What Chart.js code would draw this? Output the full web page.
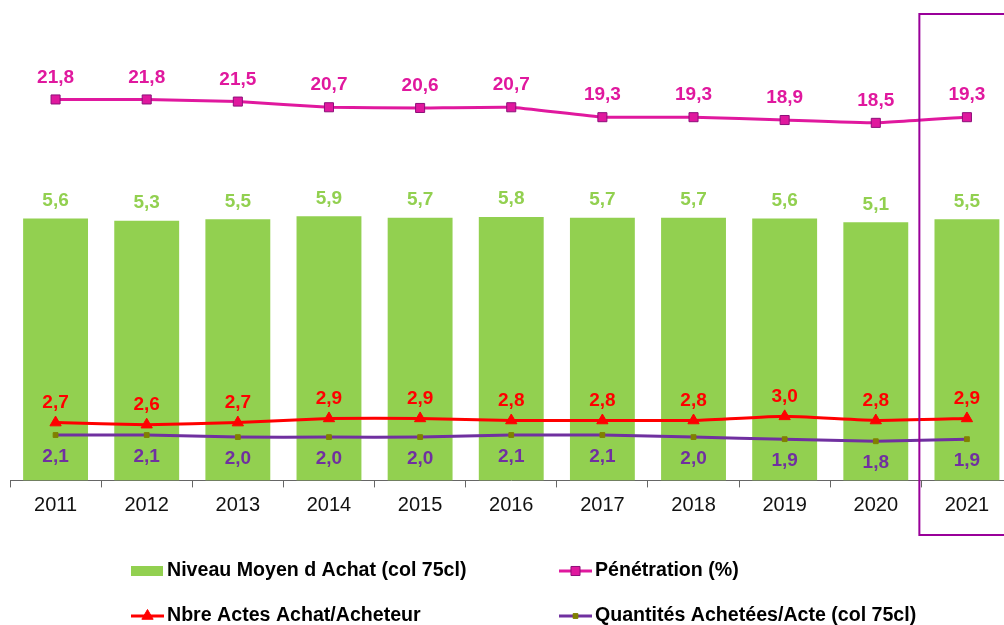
<!DOCTYPE html>
<html lang="fr">
<head>
<meta charset="utf-8">
<title>Évolution achats 2011-2021</title>
<script src="https://cdn.jsdelivr.net/npm/chart.js@4.4.1/dist/chart.umd.min.js"></script>
<style>
  html, body { margin: 0; padding: 0; background: #fff; overflow: hidden; }
  #wrap { width: 1020px; height: 625px; }
</style>
</head>
<body>
<div id="wrap"><canvas id="achatChart" width="1020" height="625"></canvas></div>
<script>
const ANNEES = ['2011', '2012', '2013', '2014', '2015', '2016', '2017', '2018', '2019', '2020', '2021'];

const SERIES = {
  niveau:   [5.6, 5.3, 5.5, 5.9, 5.7, 5.8, 5.7, 5.7, 5.6, 5.1, 5.5],
  penetration: [21.8, 21.8, 21.5, 20.7, 20.6, 20.7, 19.3, 19.3, 18.9, 18.5, 19.3],
  actes:    [2.7, 2.6, 2.7, 2.9, 2.9, 2.8, 2.8, 2.8, 3.0, 2.8, 2.9],
  quantites: [2.1, 2.1, 2.0, 2.0, 2.0, 2.1, 2.1, 2.0, 1.9, 1.8, 1.9]
};

const COLORS = {
  green: '#92D050',
  magenta: '#E0189E',
  magentaEdge: '#8E0F7A',
  red: '#FF0000',
  purple: '#7030A0',
  olive: '#808000',
  frame: '#990099'
};

const FONT = '"Liberation Sans", Arial, sans-serif';

// position of the value labels relative to each point (px, negative = above)
const LABEL_OFFSET = { 0: -18, 1: -22, 2: -20, 3: 22 };

const fmt = v => v.toFixed(1).replace('.', ',');

const valueLabels = {
  id: 'valueLabels',
  afterDatasetsDraw(chart) {
    const ctx = chart.ctx;
    ctx.save();
    ctx.font = 'bold 19px ' + FONT;
    ctx.textAlign = 'center';
    ctx.textBaseline = 'middle';
    chart.data.datasets.forEach((ds, i) => {
      const meta = chart.getDatasetMeta(i);
      ctx.fillStyle = ds.labelColor;
      meta.data.forEach((el, j) => {
        ctx.fillText(fmt(ds.data[j]), el.x, el.y + LABEL_OFFSET[i]);
      });
    });
    ctx.restore();
  }
};

// frame around the last year
const frame2021 = {
  id: 'frame2021',
  afterDraw(chart) {
    const ctx = chart.ctx;
    const x = chart.scales.x;
    const left = x.getPixelForValue(9) + (x.getPixelForValue(10) - x.getPixelForValue(9)) / 2 - 2;
    ctx.save();
    ctx.strokeStyle = COLORS.frame;
    ctx.lineWidth = 2;
    ctx.strokeRect(left, 14, 200, 521);
    ctx.restore();
  }
};

// legend in two columns, like the original
const gridLegend = {
  id: 'gridLegend',
  afterDraw(chart) {
    const ctx = chart.ctx;
    const spots = [
      { ds: 0, x: 131, y: 571 },
      { ds: 1, x: 559, y: 571 },
      { ds: 2, x: 131, y: 616 },
      { ds: 3, x: 559, y: 616 }
    ];
    ctx.save();
    spots.forEach(s => {
      const ds = chart.data.datasets[s.ds];
      if (ds.type === 'bar') {
        ctx.fillStyle = ds.backgroundColor;
        ctx.fillRect(s.x, s.y - 5, 32, 10);
      } else {
        ctx.strokeStyle = ds.borderColor;
        ctx.lineWidth = 3;
        ctx.beginPath();
        ctx.moveTo(s.x, s.y);
        ctx.lineTo(s.x + 33, s.y);
        ctx.stroke();
        ctx.fillStyle = ds.pointBackgroundColor;
        ctx.strokeStyle = ds.pointBorderColor;
        ctx.lineWidth = 1;
        Chart.helpers.drawPoint(ctx, {
          pointStyle: ds.pointStyle,
          radius: ds.pointRadius,
          borderWidth: 1
        }, s.x + 16.5, s.y);
      }
      ctx.fillStyle = '#000';
      ctx.font = 'bold 19.6px ' + FONT;
      ctx.textAlign = 'left';
      ctx.textBaseline = 'middle';
      ctx.fillText(ds.label, s.x + 36, s.y);
    });
    ctx.restore();
  }
};

function renderChart() {
  const ctx = document.getElementById('achatChart').getContext('2d');

  return new Chart(ctx, {
    type: 'bar',
    data: {
      labels: ANNEES,
      datasets: [
        {
          type: 'bar',
          label: 'Niveau Moyen d Achat (col 75cl)',
          data: SERIES.niveau,
          backgroundColor: COLORS.green,
          labelColor: COLORS.green,
          yAxisID: 'yNiveau',
          base: -29.3,
          barPercentage: 0.712,
          categoryPercentage: 1,
          order: 5
        },
        {
          type: 'line',
          label: 'Pénétration (%)',
          data: SERIES.penetration,
          borderColor: COLORS.magenta,
          borderWidth: 3,
          pointStyle: 'rect',
          pointRadius: 6.4,
          pointBackgroundColor: COLORS.magenta,
          pointBorderColor: COLORS.magentaEdge,
          pointBorderWidth: 1,
          labelColor: COLORS.magenta,
          tension: 0.1,
          yAxisID: 'yPen',
          order: 1
        },
        {
          type: 'line',
          label: 'Nbre Actes Achat/Acheteur',
          data: SERIES.actes,
          borderColor: COLORS.red,
          borderWidth: 3,
          pointStyle: 'triangle',
          pointRadius: 6.5,
          pointBackgroundColor: COLORS.red,
          pointBorderColor: COLORS.red,
          pointBorderWidth: 1,
          labelColor: COLORS.red,
          tension: 0.1,
          yAxisID: 'yActes',
          order: 2
        },
        {
          type: 'line',
          label: 'Quantités Achetées/Acte (col 75cl)',
          data: SERIES.quantites,
          borderColor: COLORS.purple,
          borderWidth: 3,
          pointStyle: 'rect',
          pointRadius: 3.4,
          pointBackgroundColor: COLORS.olive,
          pointBorderColor: COLORS.olive,
          pointBorderWidth: 1,
          labelColor: COLORS.purple,
          tension: 0.1,
          yAxisID: 'yActes',
          order: 3
        }
      ]
    },
    options: {
      responsive: false,
      animation: false,
      layout: { padding: { top: 20, left: 10, right: 6, bottom: 101.6 } },
      scales: {
        x: {
          grid: {
            offset: true,
            drawOnChartArea: false,
            tickLength: 7,
            color: '#666'
          },
          border: { color: '#666', width: 1 },
          ticks: {
            color: '#111',
            padding: 6,
            font: { family: FONT, size: 20 }
          }
        },
        yNiveau: { display: false, min: -29.3, max: 32.07 },
        yPen: { display: false, min: -31.9, max: 33.0 },
        yActes: { display: false, min: -0.09, max: 22.13 }
      },
      plugins: {
        legend: { display: false },
        tooltip: { enabled: false }
      }
    },
    plugins: [valueLabels, frame2021, gridLegend]
  });
}

document.addEventListener('DOMContentLoaded', () => {
  renderChart();
});
</script>
</body>
</html>
